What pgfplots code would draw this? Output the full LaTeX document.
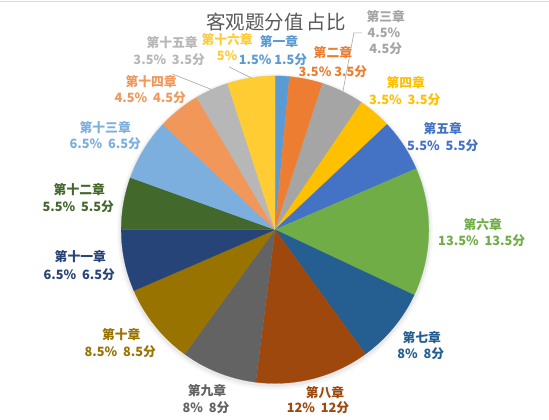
\documentclass[border=0pt]{standalone}
\usepackage{pgfplots}
\usepackage{pgfplotstable}
\pgfplotsset{compat=1.18}
\usepackage{fontspec}
\setmainfont{Noto Sans CJK SC}

\definecolor{s0}{HTML}{5B9BD5}
\definecolor{s1}{HTML}{ED7D31}
\definecolor{s2}{HTML}{A5A5A5}
\definecolor{s3}{HTML}{FFC000}
\definecolor{s4}{HTML}{4472C4}
\definecolor{s5}{HTML}{70AD47}
\definecolor{s6}{HTML}{255E91}
\definecolor{s7}{HTML}{9E480E}
\definecolor{s8}{HTML}{636363}
\definecolor{s9}{HTML}{997300}
\definecolor{s10}{HTML}{264478}
\definecolor{s11}{HTML}{43682B}
\definecolor{s12}{HTML}{7CAFDD}
\definecolor{s13}{HTML}{F1975A}
\definecolor{s14}{HTML}{B7B7B7}
\definecolor{s15}{HTML}{FFCD33}
\definecolor{titlegray}{HTML}{595959}
\definecolor{leader}{HTML}{A6A6A6}

% chapter share (percent) = score
\pgfplotstableread{
chapter value
1 1.5
2 3.5
3 4.5
4 3.5
5 5.5
6 13.5
7 8
8 12
9 8
10 8.5
11 6.5
12 5.5
13 6.5
14 4.5
15 3.5
16 5
}\pietable

\newcommand{\labfont}{\bfseries\fontsize{12.8}{15}\selectfont}
\newcommand{\lab}[7]{% color, xname, yname, name, xval, yval, value
  \node[text=#1, font=\labfont, inner sep=0pt] at (axis cs:#2,{420-#3}) {#4};
  \node[text=#1, font=\labfont, inner sep=0pt] at (axis cs:#5,{420-#6}) {#7};
}

\begin{document}
\begin{tikzpicture}
\begin{axis}[
  width=549pt, height=420pt, scale only axis,
  xmin=0, xmax=549, ymin=0, ymax=420,
  axis lines=none, clip=false,
]
% background
\addplot[fill=white, draw=none] coordinates {(0,0) (549,0) (549,420) (0,420)} -- cycle;
\addplot[draw=black!15, line width=0.8pt] coordinates {(0,418.5) (549,418.5)};

% soft shadow
\addplot[draw=none, fill=black, fill opacity=0.035, domain=0:360, samples=120] ({275+158*cos(x)},{188+158*sin(x)}) -- cycle;
\addplot[draw=none, fill=black, fill opacity=0.05, domain=0:360, samples=120] ({275+156*cos(x)},{188.5+156*sin(x)}) -- cycle;

% slices
\pgfplotstablegetrowsof{\pietable}
\pgfmathtruncatemacro\N{\pgfplotsretval-1}
\gdef\cum{0}
\pgfplotsforeachungrouped \i in {0,...,\N}{%
  \pgfplotstablegetelem{\i}{value}\of\pietable
  \pgfmathsetmacro\a{90-3.6*\cum}%
  \pgfmathsetmacro\cumnew{\cum+\pgfplotsretval}%
  \pgfmathsetmacro\b{90-3.6*\cumnew}%
  \edef\temp{\noexpand\addplot[draw=s\i, line width=0.2pt, fill=s\i, domain=\b:\a, samples=60] ({275+154*cos(x)},{190+154*sin(x)}) -- (axis cs:275,190) -- cycle;}%
  \temp
  \global\let\cum\cumnew
}

% leader lines
\addplot[leader, line width=0.6pt] coordinates {(362,387) (354,387) (343,328.3)};
\addplot[leader, line width=0.6pt] coordinates {(172,346) (211.6,330.3)};
\addplot[leader, line width=0.6pt] coordinates {(229,353) (250.9,342.1)};

% title
\node[text=titlegray, font=\fontsize{19.5}{22}\selectfont, inner sep=0pt] at (axis cs:276,398) {客观题分值\hspace{0.15em}占比};

% labels
\lab{s0}{279}{42}{第一章}{273}{60}{1.5\% 1.5分}
\lab{s1}{333}{53}{第二章}{333}{72}{3.5\% 3.5分}
\node[text=s2, font=\labfont, inner sep=0pt] at (axis cs:386,403) {第三章};
\node[text=s2, font=\labfont, inner sep=0pt] at (axis cs:384,387) {4.5\%};
\node[text=s2, font=\labfont, inner sep=0pt] at (axis cs:386,371) {4.5分};
\lab{s3}{406}{83}{第四章}{405}{100}{3.5\%\ \ 3.5分}
\lab{s4}{443}{129}{第五章}{443}{146}{5.5\%\ \ 5.5分}
\lab{s5}{483}{225}{第六章}{482}{241}{13.5\%\ \ 13.5分}
\lab{s6}{422}{338}{第七章}{421}{354}{8\%\ \ 8分}
\lab{s7}{325}{393}{第八章}{318}{408}{12\%\ \ 12分}
\lab{s8}{207}{391}{第九章}{206}{408}{8\%\ \ 8分}
\lab{s9}{121}{335}{第十章}{120}{352}{8.5\%\ \ 8.5分}
\lab{s10}{80}{257}{第十一章}{79}{275}{6.5\%\ \ 6.5分}
\lab{s11}{79}{190}{第十二章}{78}{207}{5.5\%\ \ 5.5分}
\lab{s12}{105}{128}{第十三章}{105}{144}{6.5\%\ \ 6.5分}
\lab{s13}{151}{82}{第十四章}{150}{98}{4.5\%\ \ 4.5分}
\lab{s14}{172}{43}{第十五章}{169}{60}{3.5\%\ \ 3.5分}
\lab{s15}{227}{40}{第十六章}{227}{56}{5\%}
\end{axis}
\end{tikzpicture}
\end{document}
